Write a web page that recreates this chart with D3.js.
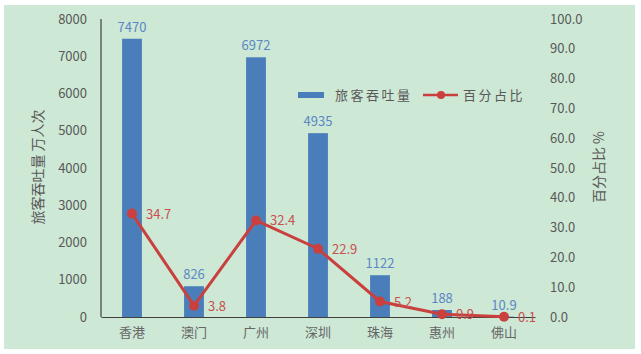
<!DOCTYPE html>
<html><head><meta charset="utf-8">
<script src="https://cdn.jsdelivr.net/npm/d3@7/dist/d3.min.js"></script>
<style>body{margin:0;background:#fff}svg{display:block}text{font-family:"Noto Sans CJK SC","Noto Sans",sans-serif}</style>
</head><body><svg id="c" width="641" height="354"></svg>
<script>
const categories = ["香港","澳门","广州","深圳","珠海","惠州","佛山"];
const passengers = [7470, 826, 6972, 4935, 1122, 188, 10.9];
const percents = [34.7, 3.8, 32.4, 22.9, 5.2, 0.9, 0.1];
const leftTicks = [0,1000,2000,3000,4000,5000,6000,7000,8000];
const rightTicks = [0,10,20,30,40,50,60,70,80,90,100];
const seriesNames = ["旅客吞吐量","百分占比"];

const svg = d3.select("#c");
svg.append("rect").attr("x",4).attr("y",5).attr("width",631).attr("height",344).attr("fill","#cde8d5");

const x0 = 101, x1 = 535, yTop = 19, yBot = 317;
const x = d3.scaleBand().domain(categories).range([x0,x1]).paddingInner(0.68).paddingOuter(0.34);
const yL = d3.scaleLinear().domain([0,8000]).range([yBot,yTop]);
const yR = d3.scaleLinear().domain([0,100]).range([yBot,yTop]);
const blue = "#4a7ebb", red = "#c9403e", grey = "#595959";

// left axis
const gl = svg.append("g").attr("transform",`translate(${x0},0)`)
  .call(d3.axisLeft(yL).tickValues(leftTicks).tickSize(0).tickPadding(14).tickFormat(d3.format("d")));
gl.select(".domain").attr("stroke","#404040").attr("stroke-width",1.2).attr("d",`M0,${yTop}V${yBot}`);
gl.selectAll("text").attr("fill",grey).attr("font-size",13).attr("font-family","Roboto, 'Noto Sans', sans-serif");

// right axis
const gr = svg.append("g").attr("transform",`translate(548,0)`)
  .call(d3.axisRight(yR).tickValues(rightTicks).tickSize(0).tickPadding(2).tickFormat(d3.format(".1f")));
gr.select(".domain").remove();
gr.selectAll("text").attr("fill",grey).attr("font-size",13).attr("font-family","Roboto, 'Noto Sans', sans-serif");

// bars
svg.append("g").selectAll("rect").data(passengers).join("rect")
  .attr("x",(d,i)=>x(categories[i])).attr("width",x.bandwidth())
  .attr("y",d=>yL(d)).attr("height",d=>yBot-yL(d)).attr("fill",blue);

// x axis
const gx = svg.append("g").attr("transform",`translate(0,${yBot})`)
  .call(d3.axisBottom(x).tickSize(0).tickPadding(11));
gx.select(".domain").attr("stroke","#404040").attr("stroke-width",1.2);
gx.selectAll("text").attr("fill","#666").attr("font-size",13);

// bar labels
svg.append("g").selectAll("text").data(passengers).join("text")
  .attr("x",(d,i)=>x(categories[i])+x.bandwidth()/2).attr("y",d=>yL(d)-7)
  .attr("text-anchor","middle").attr("fill","#5b87c4").attr("font-size",13)
  .attr("font-family","Roboto, 'Noto Sans', sans-serif").text(d=>d);

// line
const cx = (i)=>x(categories[i])+x.bandwidth()/2;
svg.append("path").datum(percents)
  .attr("d",d3.line().x((d,i)=>cx(i)).y(d=>yR(d)))
  .attr("fill","none").attr("stroke",red).attr("stroke-width",3);
svg.append("g").selectAll("circle").data(percents).join("circle")
  .attr("cx",(d,i)=>cx(i)).attr("cy",d=>yR(d)).attr("r",5).attr("fill",red);
svg.append("g").selectAll("text").data(percents).join("text")
  .attr("x",(d,i)=>cx(i)+14).attr("y",d=>yR(d)+5)
  .attr("fill","#c9504e").attr("font-size",13)
  .attr("font-family","Roboto, 'Noto Sans', sans-serif").text(d=>d3.format(".1f")(d));

// axis titles
svg.append("text").attr("transform","translate(43,167) rotate(-90)").attr("text-anchor","middle")
  .attr("fill",grey).attr("font-size",14).text("旅客吞吐量 万人次");
svg.append("text").attr("transform","translate(604,167) rotate(-90)").attr("text-anchor","middle")
  .attr("fill",grey).attr("font-size",14).text("百分占比 %");

// legend
const lg = svg.append("g");
lg.append("rect").attr("x",298).attr("y",92).attr("width",26).attr("height",6).attr("fill",blue);
lg.append("text").attr("x",335).attr("y",100).attr("fill",grey).attr("font-size",13).attr("letter-spacing",2.5).text(seriesNames[0]);
lg.append("line").attr("x1",423).attr("x2",458).attr("y1",95).attr("y2",95).attr("stroke",red).attr("stroke-width",2.5);
lg.append("circle").attr("cx",441).attr("cy",95).attr("r",4).attr("fill",red);
lg.append("text").attr("x",463).attr("y",100).attr("fill",grey).attr("font-size",13).attr("letter-spacing",2.5).text(seriesNames[1]);
</script></body></html>
